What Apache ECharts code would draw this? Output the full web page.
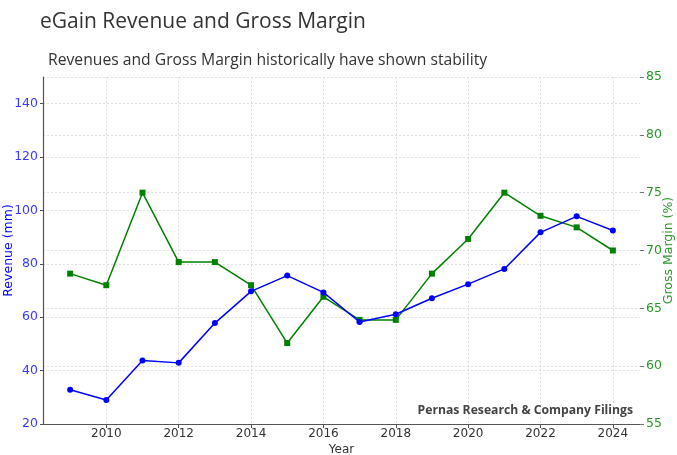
<!DOCTYPE html>
<html>
<head>
<meta charset="utf-8">
<script src="https://cdn.jsdelivr.net/npm/echarts@6/dist/echarts.min.js"></script>
<style>html,body{margin:0;padding:0;background:#fff;}#c{width:677px;height:455px;}</style>
</head>
<body>
<div id="c"></div>
<script>
const years = [2009,2010,2011,2012,2013,2014,2015,2016,2017,2018,2019,2020,2021,2022,2023,2024];
const revenue = [32.8,29,43.8,42.9,57.8,69.7,75.6,69.3,58.2,61.1,67.1,72.4,78.1,91.8,97.8,92.5];
const grossMargin = [68,67,75,69,69,67,62,66,64,64,68,71,75,73,72,70];
const xTicks = [2010,2012,2014,2016,2018,2020,2022,2024];
const revTicks = [20,40,60,80,100,120,140];
const gmTicks = [55,60,65,70,75,80,85];

const chart = echarts.init(document.getElementById('c'), null, {renderer:'canvas'});
const axisFont = 'DejaVu Sans';
const blue = '#0000ff', green = '#008000';
chart.setOption({
  animation:false,
  backgroundColor:'#fff',
  title:[
    {text:'eGain Revenue and Gross Margin', left:35, top:7,
     textStyle:{fontFamily:'Open Sans', fontSize:21, fontWeight:'normal', color:'#333'}},
    {text:'Revenues and Gross Margin historically have shown stability', left:43, top:48,
     textStyle:{fontFamily:'Open Sans', fontSize:15.7, fontWeight:'normal', color:'#333'}},
    {text:'Pernas Research & Company Filings', right:39, top:400,
     textStyle:{fontFamily:'Open Sans', fontSize:12.2, fontWeight:'bold', color:'#444'}}
  ],
  grid:{left:43, right:37, top:77, bottom:31, outerBoundsMode:'none', containLabel:false},
  xAxis:{
    type:'value', min:2008.25, max:2024.75,
    name:'Year', nameLocation:'middle', nameGap:20, nameMoveOverlap:false,
    nameTextStyle:{fontFamily:axisFont, fontSize:12, color:'#333'},
    axisLine:{show:true, lineStyle:{color:'#555', width:1.2}},
    axisTick:{show:true, length:4, customValues:xTicks, lineStyle:{color:'#555'}},
    axisLabel:{customValues:xTicks, fontFamily:axisFont, fontSize:12, color:'#333', margin:4, formatter:v=>String(v)},
    splitLine:{show:true, lineStyle:{color:'#d8d8d8', type:[2,2], width:0.8}}
  },
  yAxis:[
    {type:'value', min:20, max:150, position:'left',
     name:'Revenue (mm)', nameLocation:'middle', nameGap:28, nameRotate:90, nameMoveOverlap:false,
     nameTextStyle:{fontFamily:axisFont, fontSize:12.5, color:blue},
     axisLine:{show:true, lineStyle:{color:'#555', width:1.2}},
     axisTick:{show:true, length:3, customValues:revTicks, lineStyle:{color:'#555'}},
     axisLabel:{customValues:revTicks, fontFamily:axisFont, fontSize:12.5, color:'#3a3aff', margin:5},
     splitLine:{show:true, lineStyle:{color:'#d8d8d8', type:[2,2], width:0.8}}
    },
    {type:'value', min:55, max:85, position:'right',
     name:'Gross Margin (%)', nameLocation:'middle', nameGap:22, nameRotate:90, nameMoveOverlap:false,
     nameTextStyle:{fontFamily:axisFont, fontSize:12.5, color:'#2a962a'},
     axisLine:{show:false},
     axisTick:{show:true, length:4, customValues:gmTicks, lineStyle:{color:'#777'}},
     axisLabel:{customValues:gmTicks, fontFamily:axisFont, fontSize:12.5, color:'#2a962a', margin:6},
     splitLine:{show:true, lineStyle:{color:'#d8d8d8', type:[2,2], width:0.8}}
    }
  ],
  series:[
    {type:'line', name:'Revenue', yAxisIndex:0,
     data:years.map((y,i)=>[y,revenue[i]]),
     symbol:'circle', symbolSize:6, showSymbol:true,
     lineStyle:{color:blue, width:1.5}, itemStyle:{color:blue}, z:3},
    {type:'line', name:'Gross Margin', yAxisIndex:1,
     data:years.map((y,i)=>[y,grossMargin[i]]),
     symbol:'rect', symbolSize:6, showSymbol:true,
     lineStyle:{color:green, width:1.5}, itemStyle:{color:green}, z:2}
  ]
});
</script>
</body>
</html>
